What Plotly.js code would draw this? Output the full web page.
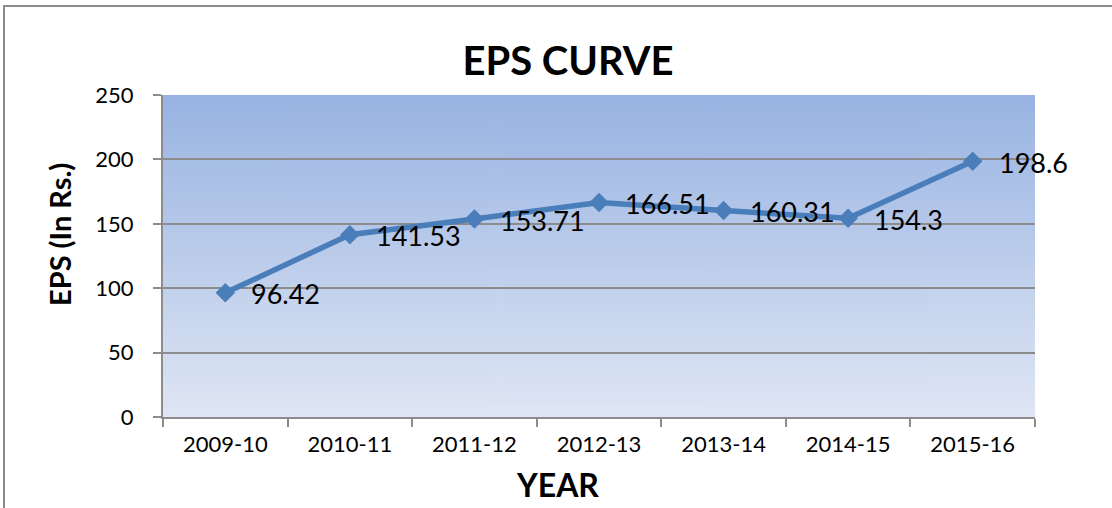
<!DOCTYPE html>
<html>
<head>
<meta charset="utf-8">
<script src="https://cdn.plot.ly/plotly-3.0.1.min.js"></script>
<style>
html,body{margin:0;padding:0;background:#fff;}
#chart{width:1112px;height:508px;}
</style>
</head>
<body>
<div id="chart"></div>
<script>
const categories = ["2009-10","2010-11","2011-12","2012-13","2013-14","2014-15","2015-16"];
const eps = [96.42, 141.53, 153.71, 166.51, 160.31, 154.3, 198.6];
const labels = ["96.42","141.53","153.71","166.51","160.31","154.3","198.6"];
const yTicks = [0, 50, 100, 150, 200, 250];
const titleText = 'EPS CURVE';
const xTitle = 'YEAR';
const yTitle = 'EPS (In Rs.)';

// gradient background image generated locally
const cv = document.createElement('canvas');
cv.width = 4; cv.height = 256;
const ctx = cv.getContext('2d');
const g = ctx.createLinearGradient(0, 0, 0, 256);
g.addColorStop(0, '#98b3e2');
g.addColorStop(1, '#dfe6f4');
ctx.fillStyle = g;
ctx.fillRect(0, 0, 4, 256);
const bg = cv.toDataURL('image/png');

const L = 163, R = 77, T = 95, B = 91, W = 1112, H = 508;
const pw = W - L - R, ph = H - T - B;
const font = 'Lato, "Open Sans", sans-serif';

const trace = {
  x: categories, y: eps, type: 'scatter', mode: 'lines+markers',
  line: {color: '#4a7ebb', width: 5.5},
  marker: {symbol: 'diamond', size: 15, color: '#4a7ebb'},
  hoverinfo: 'skip', cliponaxis: false
};

const annotations = categories.map((c, i) => ({
  x: c, y: eps[i], xref: 'x', yref: 'y', text: labels[i], showarrow: false,
  xanchor: 'left', yanchor: 'middle', xshift: 24, yshift: -1,
  font: {family: font, size: 27, color: '#000'}
}));
annotations.push({
  text: '<b>' + yTitle + '</b>', xref: 'paper', yref: 'paper',
  x: (59 - L) / pw, y: (H - B - 235) / ph, xanchor: 'center', yanchor: 'middle',
  textangle: -90, showarrow: false, font: {family: font, size: 29, color: '#000'}
});
annotations.push({
  text: '<b>' + xTitle + '</b>', xref: 'paper', yref: 'paper',
  x: (557 - L) / pw, y: (H - B - 484) / ph, xanchor: 'center', yanchor: 'middle',
  showarrow: false, font: {family: font, size: 32, color: '#000'}
});

const layout = {
  width: W, height: H,
  margin: {l: L, r: R, t: T, b: B, pad: 0},
  paper_bgcolor: '#ffffff', plot_bgcolor: 'rgba(0,0,0,0)',
  showlegend: false,
  title: {text: '<b>' + titleText + '</b>', x: 568 / W, xanchor: 'center', y: 1 - 61 / H, yanchor: 'middle',
          yref: 'container', xref: 'container', font: {family: font, size: 40, color: '#000'}},
  xaxis: {
    type: 'category', categoryorder: 'array', categoryarray: categories,
    range: [-0.5, 6.5], tickson: 'boundaries', ticks: 'outside', ticklen: 8, tickwidth: 2,
    tickcolor: '#8c8c8c', showline: true, linecolor: '#8c8c8c', linewidth: 2,
    showgrid: false, zeroline: false,
    tickfont: {family: font, size: 22, color: '#000'}, ticklabelstandoff: 7
  },
  yaxis: {
    range: [0, 250], tickvals: yTicks, ticktext: yTicks.map(String),
    ticks: 'outside', ticklen: 8, tickwidth: 2, tickcolor: '#8c8c8c',
    showline: true, linecolor: '#8c8c8c', linewidth: 2,
    showgrid: true, gridcolor: '#8c8c8c', gridwidth: 2, zeroline: false,
    tickfont: {family: font, size: 22, color: '#000'}, ticklabelstandoff: 15
  },
  images: [{source: bg, xref: 'x domain', yref: 'y domain', x: 0, y: 1, sizex: 1, sizey: 1,
            xanchor: 'left', yanchor: 'top', sizing: 'stretch', layer: 'below'}],
  shapes: [{type: 'rect', xref: 'paper', yref: 'paper',
            x0: (4 - L) / pw, x1: 1.3, y0: -0.6, y1: (H - B - 6) / ph,
            line: {color: '#8c8c8c', width: 2}, fillcolor: 'rgba(0,0,0,0)', layer: 'below'}],
  annotations: annotations
};

Plotly.newPlot('chart', [trace], layout, {displayModeBar: false, staticPlot: true});
</script>
</body>
</html>
